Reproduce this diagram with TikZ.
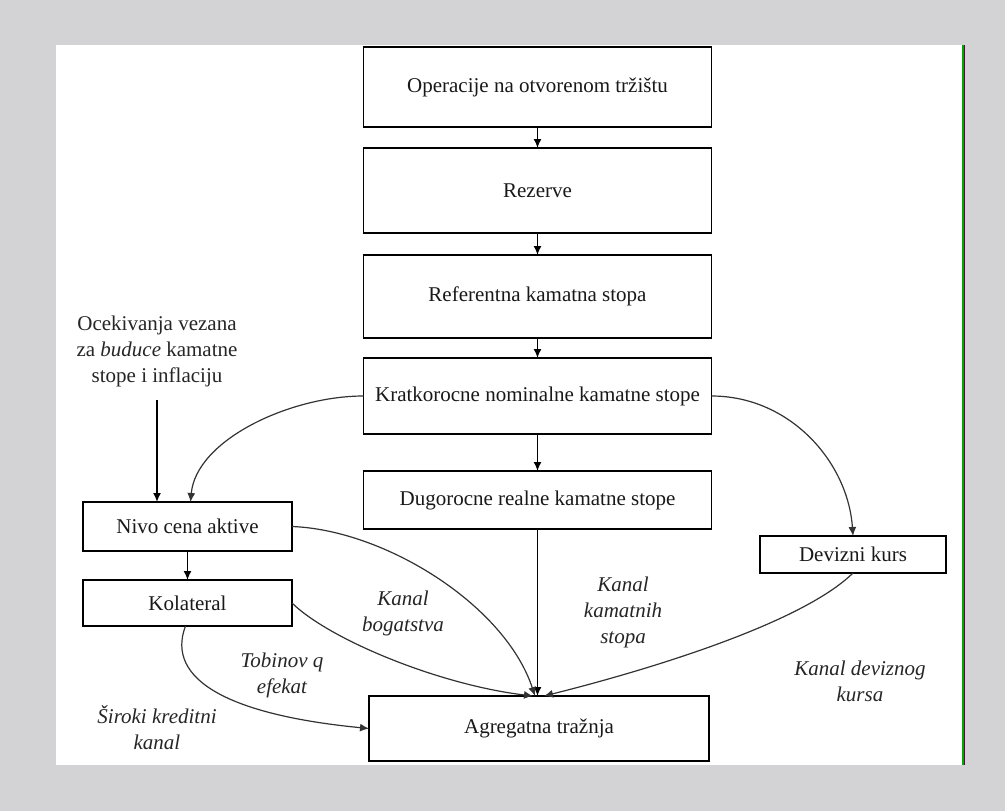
\documentclass[tikz,border=0pt]{standalone}
\usepackage{fontspec}
\setmainfont{Liberation Serif}
\usetikzlibrary{arrows.meta,calc}

\definecolor{pagegray}{RGB}{211,211,213}
\definecolor{edgegreen}{RGB}{0,170,0}
\definecolor{edgepurple}{RGB}{100,0,80}

\tikzset{
  box/.style={draw=black, line width=1.8pt, rectangle, inner sep=0pt, outer sep=0pt,
    font=\fontsize{21}{26}\selectfont, text=black!90},
  lbl/.style={align=center, inner sep=0pt, font=\fontsize{21}{26}\selectfont\itshape, text=black!85},
  note/.style={align=center, inner sep=0pt, font=\fontsize{21}{26}\selectfont, text=black!85},
  flow/.style={line width=1.6pt, -{Latex[length=9pt,width=8pt]}},
  channel/.style={line width=1.2pt, draw=black!80, -{Latex[length=9pt,width=8pt]}},
}

\begin{document}
\begin{tikzpicture}[x=1pt,y=-1pt]
  % page and frame
  \fill[pagegray] (0,0) rectangle (1005,811);
  \fill[white] (56,45) rectangle (962,765);
  \fill[edgegreen] (962,45) rectangle (963.6,765);
  \fill[edgepurple] (963.6,45) rectangle (965,765);
  \useasboundingbox (0,0) rectangle (1005,811);

  % main chain
  \node[box, minimum width=348pt, minimum height=80pt] (op)   at (537.5,87)    {Operacije na otvorenom tržištu};
  \node[box, minimum width=348pt, minimum height=85pt] (rez)  at (537.5,190.5) {Rezerve};
  \node[box, minimum width=348pt, minimum height=83pt] (ref)  at (537.5,296.5) {Referentna kamatna stopa};
  \node[box, minimum width=348pt, minimum height=76pt] (krat) at (537.5,396)   {Kratkorocne nominalne kamatne stope};
  \node[box, minimum width=348pt, minimum height=58pt] (dug)  at (537.5,500)   {Dugorocne realne kamatne stope};
  \node[box, minimum width=340pt, minimum height=65pt] (agr)  at (539,728.5)   {Agregatna tražnja};

  % side boxes
  \node[box, minimum width=209pt, minimum height=49pt] (nivo) at (187.5,526.5) {Nivo cena aktive};
  \node[box, minimum width=209pt, minimum height=46pt] (kol)  at (187.5,603)   {Kolateral};
  \node[box, minimum width=186pt, minimum height=37pt] (dev)  at (853,554.5)   {Devizni kurs};

  % expectations note
  \node[note] (oc) at (157,351) {Ocekivanja vezana\\za \textit{buduce} kamatne\\stope i inflaciju};
  \coordinate (ocstart) at (157,400);

  % channel labels
  \node[lbl] (lbog) at (403,613) {Kanal\\bogatstva};
  \node[lbl] (lkam) at (623,612) {Kanal\\kamatnih\\stopa};
  \node[lbl] (ltob) at (282,675) {Tobinov q\\efekat};
  \node[lbl] (lsir) at (157,728) {Široki kreditni\\kanal};
  \node[lbl] (ldev) at (860,681) {Kanal deviznog\\kursa};

  % vertical flow
  \draw[flow] (op.south) -- (rez.north);
  \draw[flow] (rez.south) -- (ref.north);
  \draw[flow] (ref.south) -- (krat.north);
  \draw[flow] (krat.south) -- (dug.north);
  \draw[flow] (dug.south) -- (dug.south |- agr.north);
  \draw[flow] (nivo.south) -- (kol.north);
  \draw[flow] (ocstart) -- (ocstart |- nivo.north);

  % curved channels
  \draw[channel] (krat.west) .. controls (290,396) and (196,440) .. ($(nivo.north)+(3,0)$);
  \draw[channel] (krat.east) .. controls (790,396) and (848,462) .. (dev.north);
  \draw[channel] (nivo.east) .. controls (385,530) and (505,605) .. ($(agr.north)+(-4,0)$);
  \draw[channel] (kol.east) .. controls (330,640) and (440,685) .. ($(agr.north)+(-6,0)$);
  \draw[channel] ($(kol.south)+(-2,0)$) .. controls (165,680) and (230,715) .. (agr.west);
  \draw[channel] (dev.south) .. controls (800,625) and (640,672) .. ($(agr.north)+(5,0)$);
\end{tikzpicture}
\end{document}
